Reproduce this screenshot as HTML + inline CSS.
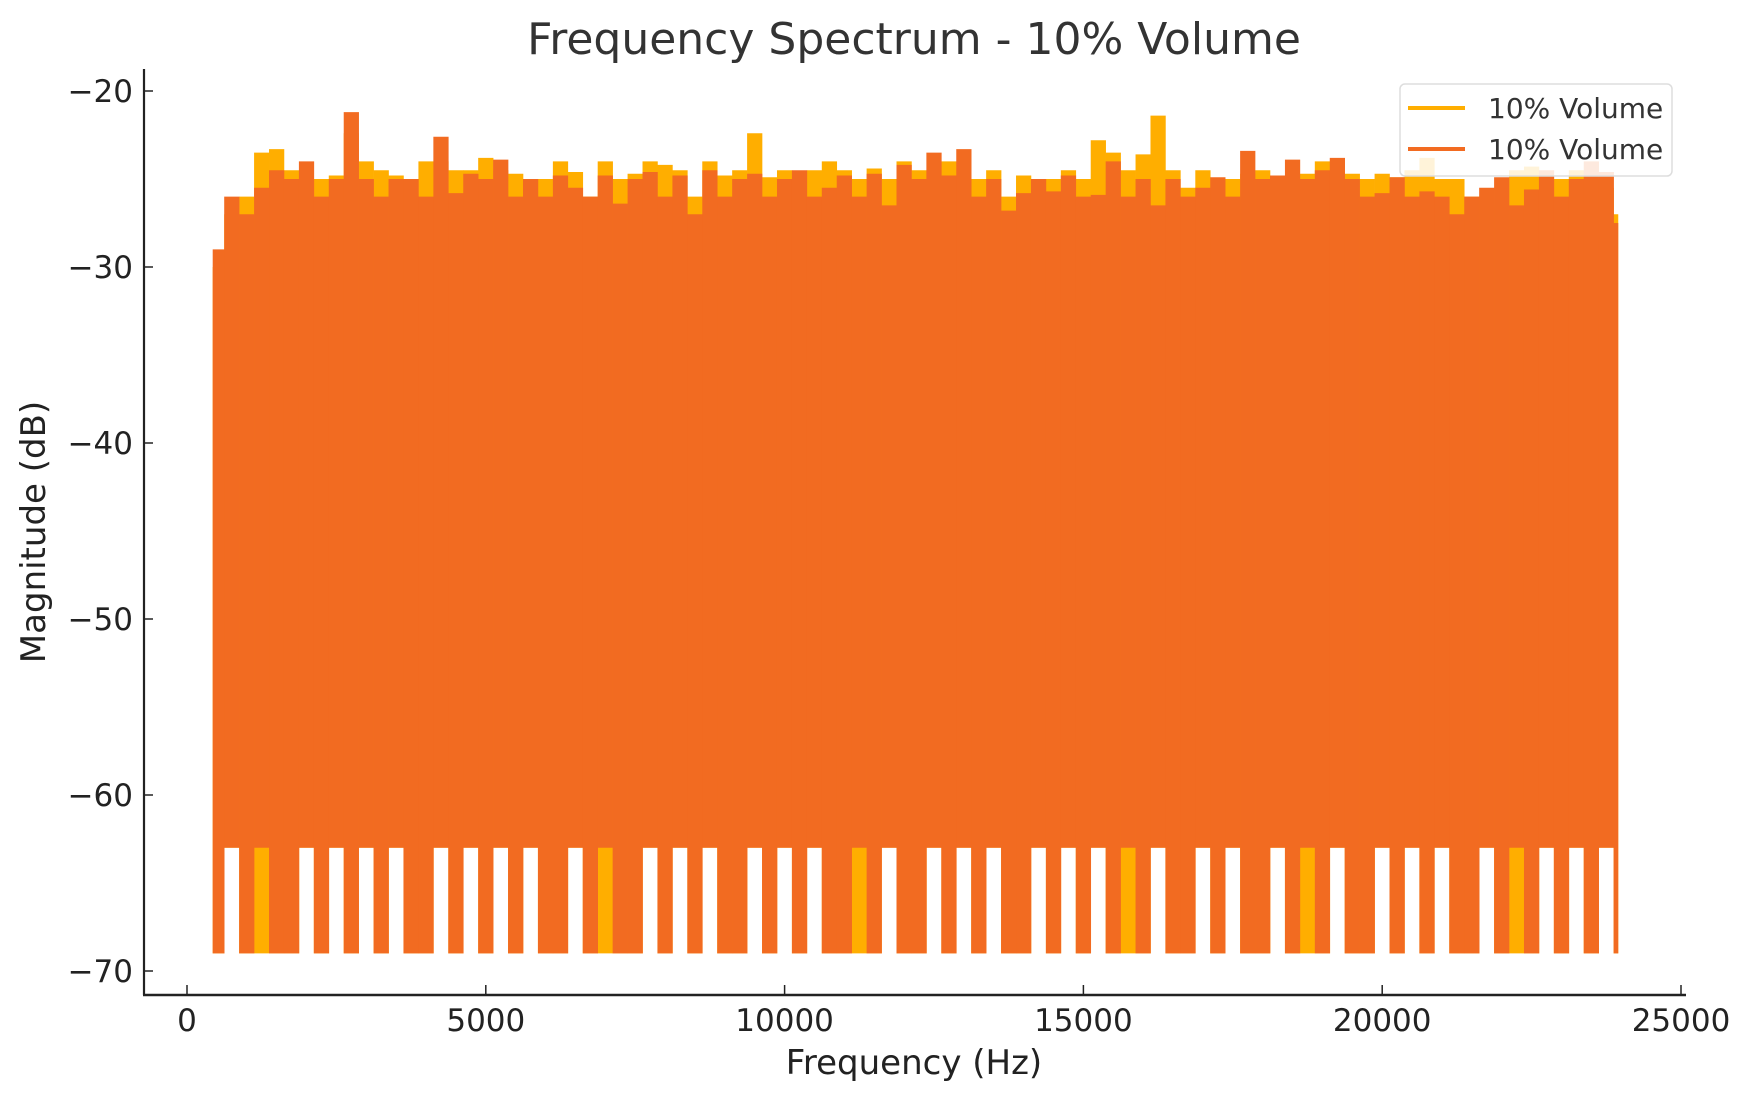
<!DOCTYPE html>
<html><head><meta charset="utf-8"><style>
body{margin:0;background:#fff;}
svg{display:block;font-family:"DejaVu Sans","Liberation Sans",sans-serif;}
</style></head><body>
<svg id="chart" width="1757" height="1101">
<defs><clipPath id="clip"><rect id="cliprect" x="0" y="0" width="0" height="1101"/></clipPath></defs>
<text x="914" y="54" text-anchor="middle" font-size="44" fill="#333">Frequency Spectrum - 10% Volume</text>
<g id="plot" clip-path="url(#clip)"></g>
<line x1="144" y1="69" x2="144" y2="995" stroke="#222" stroke-width="2.2"/>
<line x1="143" y1="995" x2="1686" y2="995" stroke="#222" stroke-width="2.5"/>
<g id="xticks"></g>
<g id="yticks"></g>
<text x="914" y="1074" text-anchor="middle" font-size="34" fill="#222">Frequency (Hz)</text>
<text transform="translate(45,532) rotate(-90)" text-anchor="middle" font-size="34" fill="#222">Magnitude (dB)</text>
<g>
<rect x="1400" y="84" width="272" height="92" rx="5" fill="#fff" fill-opacity="0.85" stroke="#ddd" stroke-width="1.5"/>
<line x1="1408" y1="108" x2="1465" y2="108" stroke="#FFAE00" stroke-width="4"/>
<text x="1488" y="118" font-size="28" fill="#333">10% Volume</text>
<line x1="1408" y1="149" x2="1465" y2="149" stroke="#F26B21" stroke-width="4"/>
<text x="1488" y="159" font-size="28" fill="#333">10% Volume</text>
</g>
</svg>
<script>
const freqs=[500,750,1000,1250,1500,1750,2000,2250,2500,2750,3000,3250,3500,3750,4000,4250,4500,4750,5000,5250,5500,5750,6000,6250,6500,6750,7000,7250,7500,7750,8000,8250,8500,8750,9000,9250,9500,9750,10000,10250,10500,10750,11000,11250,11500,11750,12000,12250,12500,12750,13000,13250,13500,13750,14000,14250,14500,14750,15000,15250,15500,15750,16000,16250,16500,16750,17000,17250,17500,17750,18000,18250,18500,18750,19000,19250,19500,19750,20000,20250,20500,20750,21000,21250,21500,21750,22000,22250,22500,22750,23000,23250,23500,23750,24000];
const orangePeaks=[-29,-26,-27,-25.5,-24.5,-25,-24,-26,-25,-21.2,-25,-26,-25,-25,-26,-22.6,-25.8,-24.7,-25,-23.9,-26,-25,-26,-24.8,-25.5,-26,-24.8,-26.4,-25,-24.6,-26,-24.8,-27,-24.5,-26,-25,-24.7,-26,-25,-24.5,-26,-25.5,-24.8,-26,-24.7,-26.5,-24.2,-25,-23.5,-24.8,-23.3,-26,-25,-26.8,-25.8,-25,-25.7,-24.8,-26,-25.9,-24,-26,-25,-26.5,-25,-26,-25.5,-24.9,-26,-23.4,-25,-24.8,-23.9,-25,-24.5,-23.8,-25,-26,-25.8,-24.9,-26,-25.7,-26,-27,-26,-25.5,-24.9,-26.5,-25.6,-24.5,-26,-25,-24,-24.6,-27.5];
const yellowPeaks=[-30,-27,-26,-23.5,-23.3,-24.5,-25,-25,-24.8,-22.4,-24,-24.5,-24.8,-26,-24,-24,-24.5,-24.5,-23.8,-24.5,-24.7,-25,-25,-24,-24.6,-26,-24,-25,-24.7,-24,-24.2,-24.5,-26,-24,-24.8,-24.5,-22.4,-24.9,-24.5,-24.6,-24.5,-24,-24.5,-25,-24.4,-25,-24,-24.5,-24.6,-24,-24.5,-25,-24.5,-26,-24.8,-25,-25,-24.5,-25,-22.8,-23.5,-24.5,-23.6,-21.4,-24.5,-25.5,-24.5,-25,-25,-24.7,-24.5,-24.8,-25,-24.7,-24,-24.8,-24.7,-25,-24.7,-24.9,-24.5,-23.8,-25,-25,-26,-26.5,-25.5,-24.5,-24.3,-25,-25,-24.5,-25,-25.5,-27];
const orangeTroughs=[-69,-63,-69,-63,-69,-69,-63,-69,-63,-69,-63,-69,-63,-69,-69,-63,-69,-63,-69,-63,-69,-63,-69,-69,-63,-69,-63,-69,-69,-63,-69,-63,-69,-63,-69,-69,-63,-69,-63,-69,-63,-69,-69,-63,-69,-63,-69,-69,-63,-69,-63,-69,-63,-69,-69,-63,-69,-63,-69,-63,-69,-63,-69,-63,-69,-69,-63,-69,-63,-69,-69,-63,-69,-63,-69,-63,-69,-69,-63,-69,-63,-69,-63,-69,-69,-63,-69,-63,-69,-63,-69,-63,-69,-63,-69];
const yellowTroughs=[-69,-63,-69,-69,-69,-69,-63,-69,-63,-69,-63,-69,-63,-69,-69,-63,-69,-63,-69,-63,-69,-63,-69,-69,-63,-69,-69,-69,-69,-63,-69,-63,-69,-63,-69,-69,-63,-69,-63,-69,-63,-69,-69,-69,-69,-63,-69,-69,-63,-69,-63,-69,-63,-69,-69,-63,-69,-63,-69,-63,-69,-69,-69,-63,-69,-69,-63,-69,-63,-69,-69,-63,-69,-69,-69,-63,-69,-69,-63,-69,-63,-69,-63,-69,-69,-63,-69,-69,-69,-63,-69,-63,-69,-63,-69];
const xTickVals=[0,5000,10000,15000,20000,25000];
const yTickVals=[-20,-30,-40,-50,-60,-70];
const dataStart=430, dataEnd=23950;
const NS="http://www.w3.org/2000/svg";
const xs=f=>187+(f/25000)*(1681-187);
const ys=v=>91+(-20-v)/50*(971-91);
const cr=document.getElementById('cliprect');
cr.setAttribute('x',xs(dataStart));cr.setAttribute('width',xs(dataEnd)-xs(dataStart));
const plot=document.getElementById('plot');
function drawSeries(peaks,troughs,color,name){
  const g=document.createElementNS(NS,'g');
  
  
  const bw=xs(250)-xs(0);
  for(let i=0;i<freqs.length;i++){
    const l=document.createElementNS(NS,'line');
    l.setAttribute('x1',xs(freqs[i]));l.setAttribute('x2',xs(freqs[i]));
    l.setAttribute('y1',ys(peaks[i]));l.setAttribute('y2',ys(troughs[i]));
    l.setAttribute('stroke',color);l.setAttribute('stroke-width',bw+0.3);
    
    
    g.appendChild(l);
  }
  plot.appendChild(g);
}
drawSeries(yellowPeaks,yellowTroughs,'#FFAE00','series-yellow');
drawSeries(orangePeaks,orangeTroughs,'#F26B21','series-orange');
const xt=document.getElementById('xticks');
xTickVals.forEach(v=>{
  const l=document.createElementNS(NS,'line');
  l.setAttribute('x1',xs(v));l.setAttribute('x2',xs(v));l.setAttribute('y1',985);l.setAttribute('y2',995);
  l.setAttribute('stroke','#222');l.setAttribute('stroke-width',1.5);
  
  
  xt.appendChild(l);
  const t=document.createElementNS(NS,'text');
  t.setAttribute('x',xs(v));t.setAttribute('y',1031);t.setAttribute('text-anchor','middle');
  t.setAttribute('font-size','31');t.setAttribute('fill','#222');t.textContent=v;
  
  
  xt.appendChild(t);
});
const yt=document.getElementById('yticks');
yTickVals.forEach(v=>{
  const l=document.createElementNS(NS,'line');
  l.setAttribute('x1',144);l.setAttribute('x2',153);l.setAttribute('y1',ys(v));l.setAttribute('y2',ys(v));
  l.setAttribute('stroke','#222');l.setAttribute('stroke-width',1.5);
  
  
  yt.appendChild(l);
  const t=document.createElementNS(NS,'text');
  t.setAttribute('x',133);t.setAttribute('y',ys(v)+11);t.setAttribute('text-anchor','end');
  t.setAttribute('font-size','31');t.setAttribute('fill','#222');t.textContent='\u2212'+Math.abs(v);
  
  
  yt.appendChild(t);
});
</script>
</body></html>
